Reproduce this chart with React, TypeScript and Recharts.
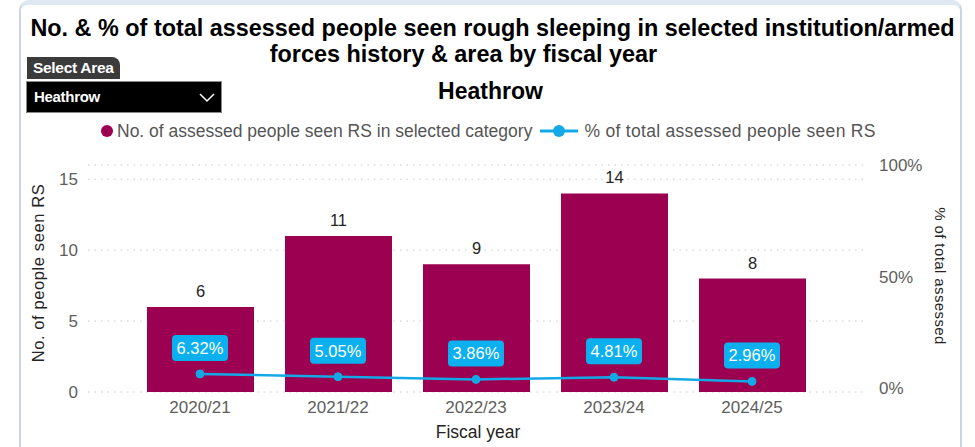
import { Bar, CartesianGrid, ComposedChart, LabelList, Line, XAxis, YAxis } from "recharts";

const years = ["2020/21", "2021/22", "2022/23", "2023/24", "2024/25"];
const seenCounts = [6, 11, 9, 14, 8];
const pctOfTotal = [0.0632, 0.0505, 0.0386, 0.0481, 0.0296];
const countTicks = [0, 5, 10, 15];
const pctTicks = [0, 0.5, 1];

const data = years.map((year, i) => ({ year, count: seenCounts[i], pct: pctOfTotal[i] }));

const BAR = "#9b0051";
const LINE = "#13a9e6";
const BOX = "#0cb0ef";
const TICK = "#605e5c";
const DARK = "#252423";
const font = "'Liberation Sans', Arial, sans-serif";

function PctBox(props: any) {
  const { x, y, value } = props;
  const w = 56;
  const h = 26;
  return (
    <g>
      <rect x={x - w / 2} y={y - 39} width={w} height={h} rx={4} fill={BOX} />
      <text x={x} y={y - 26} textAnchor="middle" dominantBaseline="central" fill="#fff" fontSize={16.5} fontFamily={font}>
        {(value * 100).toFixed(2)}%
      </text>
    </g>
  );
}

export default function App() {
  return (
    <div style={{ position: "absolute", left: 0, top: 0, width: 975, height: 447, background: "#fff", fontFamily: font, overflow: "hidden" }}>
      {/* card frame */}
      <div style={{ position: "absolute", left: 19, top: 0, width: 939, height: 460, borderLeft: "2px solid #c9d5e3", borderRight: "2px solid #c9d5e3", borderTop: "5px solid #dfe7f0", borderRadius: "10px 10px 0 0" }} />

      <div style={{ position: "absolute", left: 0, width: 985, top: 15, textAlign: "center", fontWeight: 700, fontSize: 23.4, color: "#000", whiteSpace: "nowrap" }}>
        No. &amp; % of total assessed people seen rough sleeping in selected institution/armed
      </div>
      <div style={{ position: "absolute", left: 0, width: 927, top: 41, textAlign: "center", fontWeight: 700, fontSize: 23.4, color: "#000", whiteSpace: "nowrap" }}>
        forces history &amp; area by fiscal year
      </div>
      <div style={{ position: "absolute", left: 0, width: 981, top: 78, textAlign: "center", fontWeight: 700, fontSize: 23, color: "#000" }}>
        Heathrow
      </div>

      {/* Select Area slicer */}
      <div style={{ position: "absolute", left: 27, top: 57, width: 93, height: 22, background: "#3b3b3b", borderRadius: "0 8px 0 0", color: "#fff", fontWeight: 700, fontSize: 15.5, lineHeight: "22px", paddingLeft: 6, boxSizing: "border-box", letterSpacing: -0.3, whiteSpace: "nowrap" }}>
        Select Area
      </div>
      <div style={{ position: "absolute", left: 26, top: 81, width: 196, height: 32, background: "#000", border: "1px solid #8a8a8a", boxSizing: "border-box", color: "#fff", fontSize: 15, lineHeight: "30px", paddingLeft: 7, fontWeight: 700, letterSpacing: -0.3 }}>
        Heathrow
        <svg style={{ position: "absolute", left: 172, top: 11 }} width={16} height={10}>
          <polyline points="1,1 8,8 15,1" fill="none" stroke="#fff" strokeWidth={1.5} />
        </svg>
      </div>

      {/* legend */}
      <div style={{ position: "absolute", left: 101, top: 120, height: 22, display: "flex", alignItems: "center", fontSize: 17.5, color: "#555", whiteSpace: "nowrap" }}>
        <span style={{ width: 12, height: 12, borderRadius: 6, background: BAR, display: "inline-block", marginRight: 4 }} />
        <span>No. of assessed people seen RS in selected category</span>
        <svg width={38} height={14} style={{ marginLeft: 8, marginRight: 6 }}>
          <line x1={0} y1={7} x2={38} y2={7} stroke={LINE} strokeWidth={3} />
          <circle cx={19} cy={7} r={6} fill={LINE} />
        </svg>
        <span style={{ letterSpacing: 0.3 }}>% of total assessed people seen RS</span>
      </div>

      <div style={{ position: "absolute", left: 0, top: 0 }}>
        <ComposedChart width={975} height={447} data={data} margin={{ top: 165, right: 0, bottom: 0, left: 0 }}>
          <CartesianGrid yAxisId="count" vertical={false} stroke="#c8c8c8" strokeDasharray="1.5 5" />
          <XAxis
            dataKey="year"
            height={55}
            padding={{ left: 43, right: 47 }}
            axisLine={false}
            tickLine={false}
            tickSize={0}
            tickMargin={9}
            tick={{ fill: TICK, fontSize: 17, fontFamily: font }}
            label={{
              content: () => (
                <text x={478} y={432} textAnchor="middle" dominantBaseline="central" fill={DARK} fontSize={17.5} fontFamily={font}>
                  Fiscal year
                </text>
              ),
            }}
          />
          <YAxis
            yAxisId="count"
            width={88}
            domain={[0, 16]}
            ticks={countTicks}
            axisLine={false}
            tickLine={false}
            tickSize={0}
            tickMargin={10}
            tick={{ fill: TICK, fontSize: 17, fontFamily: font }}
            label={{
              content: () => (
                <text x={38} y={273} transform="rotate(-90 38 273)" textAnchor="middle" dominantBaseline="central" fill={DARK} fontSize={16.5} fontFamily={font} letterSpacing={0.6}>
                  No. of people seen RS
                </text>
              ),
            }}
          />
          <YAxis
            yAxisId="pct"
            orientation="right"
            width={107}
            domain={[-0.018, 1]}
            ticks={pctTicks}
            tickFormatter={(v: number) => `${Math.round(v * 100)}%`}
            axisLine={false}
            tickLine={false}
            tickSize={0}
            tickMargin={11}
            tick={{ fill: TICK, fontSize: 17, fontFamily: font, textAnchor: "start" }}
            label={{
              content: () => (
                <text x={940} y={276} transform="rotate(90 940 276)" textAnchor="middle" dominantBaseline="central" fill={DARK} fontSize={15} fontFamily={font} letterSpacing={0.4}>
                  % of total assessed
                </text>
              ),
            }}
          />
          <Bar yAxisId="count" dataKey="count" fill={BAR} barSize={107} isAnimationActive={false}>
            <LabelList dataKey="count" position="top" offset={10} fill={DARK} fontSize={16.5} fontFamily={font} />
          </Bar>
          <Line
            yAxisId="pct"
            dataKey="pct"
            stroke={LINE}
            strokeWidth={2.5}
            dot={{ r: 4, fill: LINE, stroke: LINE, strokeWidth: 1 }}
            isAnimationActive={false}
          >
            <LabelList dataKey="pct" content={<PctBox />} />
          </Line>
        </ComposedChart>
      </div>
    </div>
  );
}
